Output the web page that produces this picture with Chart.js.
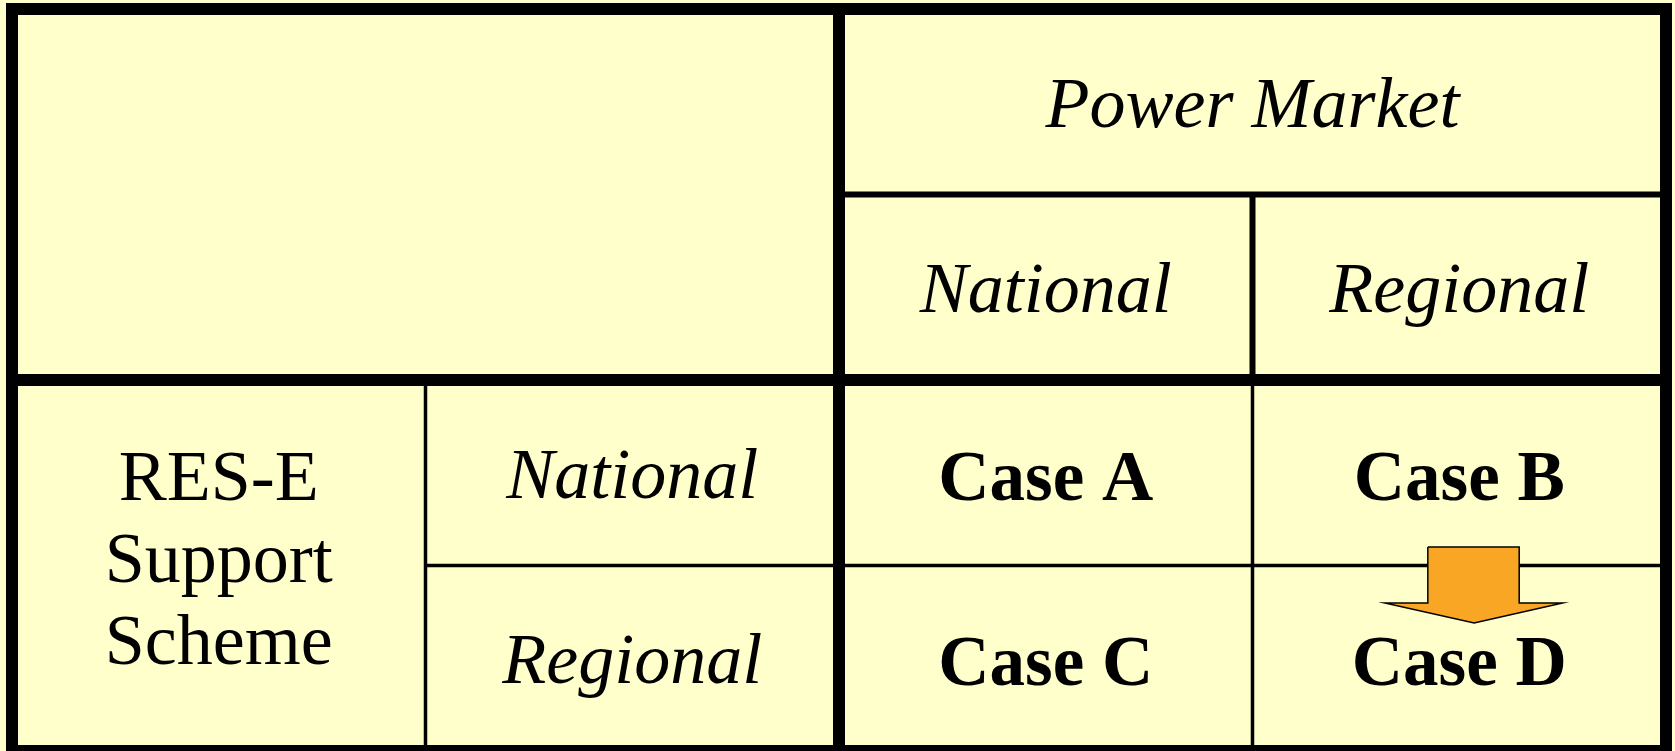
<!DOCTYPE html>
<html lang="en">
<head>
  <meta charset="UTF-8">
  <title>Power Market vs RES-E Support Scheme</title>
  <script src="https://cdn.jsdelivr.net/npm/chart.js"></script>
  <style>
    html, body {
      margin: 0;
      padding: 0;
      background-color: #ffffcc;
      overflow: hidden;
    }

    .wrap {
      position: relative;
      width: 1675px;
      height: 751px;
    }
  </style>
</head>
<body>
  <div class="wrap">
    <canvas id="tabla"></canvas>
  </div>

  <script>
    // table contents (grid units: 4 columns x 4 rows)
    const headerTitle = 'Power Market';
    const marketCols = ['National', 'Regional'];
    const supportTitle = ['RES-E', 'Support', 'Scheme'];
    const supportRows = ['National', 'Regional'];
    const cases = [
      ['Case A', 'Case B'],
      ['Case C', 'Case D']
    ];

    // table lines, in grid units
    const outerBox = [[2, 0], [4, 0], [4, 4], [0, 4], [0, 0], [2, 0]];
    const thickLines = [
      [[2, 0], [2, 4]],
      [[0, 2], [4, 2]]
    ];
    const headLines = [
      [[2, 1], [4, 1]],
      [[3, 1], [3, 2]]
    ];
    const bodyLines = [
      [[1, 2], [1, 4]],
      [[1, 3], [4, 3]],
      [[3, 2], [3, 4]]
    ];

    // arrow from Case B to Case D, in grid units
    const arrowShape = [
      [3.424, 2.900], [3.645, 2.900], [3.645, 3.202], [3.750, 3.202],
      [3.536, 3.310], [3.320, 3.202], [3.424, 3.202], [3.424, 2.900]
    ];

    function toPts(arr) {
      return arr.map(p => ({ x: p[0], y: p[1] }));
    }

    function lineSet(seg, width) {
      return {
        data: toPts(seg),
        showLine: true,
        borderColor: '#000000',
        borderWidth: width,
        borderCapStyle: 'butt',
        borderJoinStyle: 'miter',
        pointRadius: 0,
        fill: false,
        clip: false
      };
    }

    const datasets = [];

    datasets.push({
      data: toPts(arrowShape),
      showLine: true,
      borderColor: '#000000',
      borderWidth: 1.5,
      borderJoinStyle: 'miter',
      backgroundColor: '#f8a623',
      pointRadius: 0,
      fill: 'shape',
      clip: false
    });

    datasets.push(lineSet(outerBox, 12));
    thickLines.forEach(s => datasets.push(lineSet(s, 12)));
    headLines.forEach(s => datasets.push(lineSet(s, 6)));
    bodyLines.forEach(s => datasets.push(lineSet(s, 3.5)));

    // writes the cell texts at the centre of their cells
    const textosCeldas = {
      id: 'textosCeldas',
      afterDatasetsDraw(chart) {
        const ctx = chart.ctx;
        const sx = chart.scales.x;
        const sy = chart.scales.y;

        function escribir(txt, cx, cy, font, size, dy) {
          ctx.save();
          ctx.font = font + ' ' + size + 'px "Liberation Serif", "Times New Roman", serif';
          ctx.fillStyle = '#000000';
          ctx.textAlign = 'center';
          ctx.textBaseline = 'alphabetic';
          const px = sx.getPixelForValue(cx);
          const py = sy.getPixelForValue(cy) + size * 0.35 + (dy || 0);
          ctx.fillText(txt, px, py);
          ctx.restore();
        }

        escribir(headerTitle, 3, 0.5, 'italic', 72);
        marketCols.forEach((t, i) => escribir(t, 2.5 + i, 1.5, 'italic', 72));
        supportRows.forEach((t, j) => escribir(t, 1.5, 2.5 + j, 'italic', 72));

        supportTitle.forEach((t, k) => {
          escribir(t, 0.5, 3, 'normal', 72, (k - 1) * 82 - 9);
        });

        cases.forEach((fila, j) => {
          fila.forEach((t, i) => escribir(t, 2.5 + i, 2.5 + j, 'bold', 71, 2));
        });
      }
    };

    const ctx = document.getElementById('tabla').getContext('2d');

    new Chart(ctx, {
      type: 'scatter',
      data: { datasets: datasets },
      options: {
        responsive: true,
        maintainAspectRatio: false,
        animation: false,
        layout: { padding: 0 },
        plugins: {
          legend: { display: false },
          tooltip: { enabled: false }
        },
        scales: {
          x: { type: 'linear', display: false, min: -0.02902, max: 4.02177 },
          y: { type: 'linear', display: false, reverse: true, min: -0.04852, max: 4.0 }
        }
      },
      plugins: [textosCeldas]
    });
  </script>
</body>
</html>
